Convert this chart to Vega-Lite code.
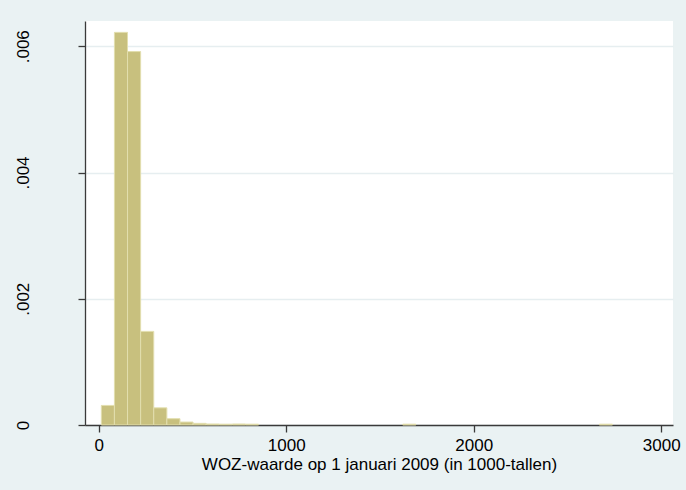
{
  "$schema": "https://vega.github.io/schema/vega-lite/v6.json",
  "width": 588,
  "height": 404,
  "autosize": {"type": "none"},
  "padding": {"left": 85, "top": 21, "right": 13, "bottom": 65},
  "background": "#EAF2F3",
  "config": {
    "view": {"fill": "white", "stroke": null},
    "font": "Liberation Sans",
    "axis": {
      "labelFont": "Liberation Sans",
      "titleFont": "Liberation Sans",
      "labelColor": "black",
      "titleColor": "black",
      "labelFontSize": 17,
      "titleFontSize": 17,
      "titleFontWeight": "normal",
      "domainColor": "#3a3a3a",
      "tickColor": "#3a3a3a",
      "domainWidth": 1.3,
      "tickWidth": 1.3,
      "tickSize": 7
    }
  },
  "data": {
    "values": [
      {"bin_start": 14.0, "bin_end": 83.9, "density": 0.00031},
      {"bin_start": 83.9, "bin_end": 153.8, "density": 0.00622},
      {"bin_start": 153.8, "bin_end": 223.7, "density": 0.005916},
      {"bin_start": 223.7, "bin_end": 293.6, "density": 0.001483},
      {"bin_start": 293.6, "bin_end": 363.5, "density": 0.000272},
      {"bin_start": 363.5, "bin_end": 433.4, "density": 0.0001},
      {"bin_start": 433.4, "bin_end": 503.3, "density": 0.000047},
      {"bin_start": 503.3, "bin_end": 573.2, "density": 0.000026},
      {"bin_start": 573.2, "bin_end": 643.1, "density": 0.000016},
      {"bin_start": 643.1, "bin_end": 713.0, "density": 0.000013},
      {"bin_start": 713.0, "bin_end": 782.9, "density": 0.000016},
      {"bin_start": 782.9, "bin_end": 852.8, "density": 0.000013},
      {"bin_start": 1621.7, "bin_end": 1691.6, "density": 0.000013},
      {"bin_start": 2670.2, "bin_end": 2740.1, "density": 0.000013}
    ]
  },
  "mark": {"type": "rect", "fill": "#C8C07E", "stroke": "#E2DEAE", "strokeWidth": 1},
  "encoding": {
    "x": {
      "field": "bin_start",
      "type": "quantitative",
      "scale": {"domain": [-73, 3063], "nice": false, "zero": false},
      "axis": {
        "values": [0, 1000, 2000, 3000],
        "title": "WOZ-waarde op 1 januari 2009 (in 1000-tallen)",
        "grid": false,
        "labelPadding": 5,
        "titlePadding": 3,
        "format": "d"
      }
    },
    "x2": {"field": "bin_end"},
    "y": {
      "field": "density",
      "type": "quantitative",
      "scale": {"domain": [0, 0.0064], "nice": false},
      "axis": {
        "values": [0, 0.002, 0.004, 0.006],
        "title": null,
        "grid": true,
        "gridColor": "#E6EEF0",
        "gridWidth": 1.3,
        "labelAngle": -90,
        "labelAlign": "center",
        "labelBaseline": "bottom",
        "labelPadding": 46,
        "labelExpr": "datum.value == 0 ? '0' : replace(format(datum.value, '.3f'), '0.', '.')"
      }
    },
    "y2": {"datum": 0}
  }
}
